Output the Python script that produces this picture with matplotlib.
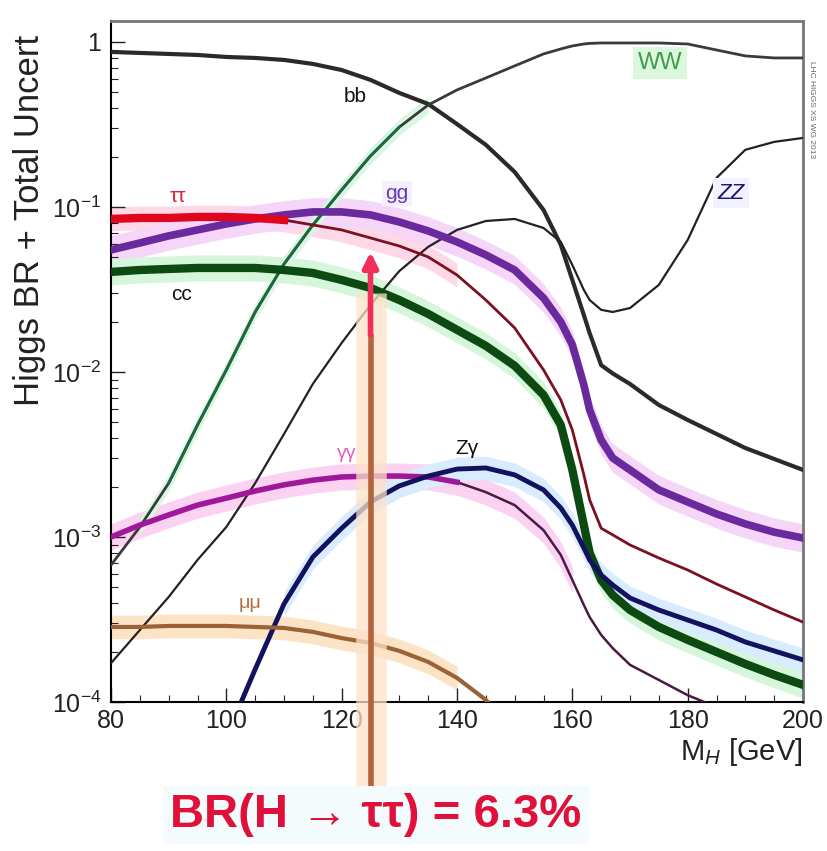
import numpy as np
import matplotlib
matplotlib.use('Agg')
import matplotlib.pyplot as plt
import matplotlib.transforms as mtransforms
from matplotlib import font_manager as fm

names = set(f.name for f in fm.fontManager.ttflist)
narrow = 'Liberation Sans Narrow' if 'Liberation Sans Narrow' in names else 'Liberation Sans'
plt.rcParams['font.family'] = ['Liberation Sans', 'DejaVu Sans']
plt.rcParams['mathtext.fontset'] = 'custom'
plt.rcParams['mathtext.rm'] = 'Liberation Sans'
plt.rcParams['mathtext.it'] = 'Liberation Sans:italic'

# Higgs mass grid [GeV]
M = np.array([80, 85, 90, 95, 100, 105, 110, 115, 120, 125, 130, 135, 140, 145,
              150, 155, 158, 160, 162, 163, 165, 167, 170, 175, 180, 185, 190, 195, 200])

# branching ratios
br_bb = np.array([0.870, 0.858, 0.846, 0.834, 0.811, 0.800, 0.778, 0.736, 0.676, 0.589,
                  0.491, 0.421, 0.318, 0.238, 0.163, 0.096, 0.0589, 0.0361, 0.0221, 0.0172,
                  0.0110, 0.0098, 0.00846, 0.00631, 0.00512, 0.00421, 0.00346, 0.00297,
                  0.00255])
br_ww = np.array([6.76e-4, 1.15e-3, 2.12e-3, 4.77e-3, 0.0103, 0.0231, 0.0451, 0.0778,
                  0.127, 0.204, 0.305, 0.415, 0.512, 0.605, 0.716, 0.846, 0.907, 0.946,
                  0.972, 0.980, 0.986, 0.986, 0.986, 0.986, 0.972, 0.894, 0.823, 0.800, 0.800])
br_zz = np.array([1.72e-4, 2.73e-4, 4.33e-4, 7.26e-4, 1.15e-3, 2.12e-3, 4.21e-3, 8.46e-3,
                  0.0150, 0.0255, 0.0409, 0.0573, 0.0726, 0.0822, 0.0846, 0.0746, 0.0614,
                  0.0445, 0.0314, 0.0273, 0.0238, 0.0231, 0.0244, 0.0337, 0.0631, 0.150,
                  0.222, 0.248, 0.262])
br_gg = np.array([0.0549, 0.0605, 0.0668, 0.0726, 0.0789, 0.0846, 0.0895, 0.0933, 0.0933,
                  0.0895, 0.0811, 0.0716, 0.0614, 0.0512, 0.0415, 0.0281, 0.0201, 0.0146,
                  0.00834, 0.00589, 0.00387, 0.00301, 0.00255, 0.00193, 0.00163, 0.00138,
                  0.00120, 0.00107, 0.000986])
br_tautau = np.array([0.0846, 0.0858, 0.0858, 0.0870, 0.0870, 0.0858, 0.0834, 0.0778,
                      0.0726, 0.0649, 0.0580, 0.0498, 0.0387, 0.0273, 0.0185, 0.0103,
                      0.00677, 0.00445, 0.00238, 0.00168, 0.00113, 0.00103, 8.95e-4,
                      7.46e-4, 6.31e-4, 5.19e-4, 4.33e-4, 3.61e-4, 3.05e-4])
br_cc = np.array([0.0404, 0.0415, 0.0421, 0.0427, 0.0427, 0.0427, 0.0415, 0.0398, 0.0361,
                  0.0323, 0.0273, 0.0225, 0.0180, 0.0144, 0.0109, 0.00726, 0.00477, 0.00255,
                  0.00118, 8.0e-4, 5.49e-4, 4.45e-4, 3.61e-4, 2.85e-4, 2.38e-4, 2.01e-4,
                  1.70e-4, 1.46e-4, 1.27e-4])
br_gamgam = np.array([1.00e-3, 1.18e-3, 1.36e-3, 1.56e-3, 1.72e-3, 1.90e-3, 2.07e-3, 2.21e-3,
                      2.31e-3, 2.34e-3, 2.34e-3, 2.31e-3, 2.15e-3, 1.87e-3, 1.56e-3, 1.10e-3,
                      7.78e-4, 5.49e-4, 3.87e-4, 3.27e-4, 2.55e-4, 2.12e-4, 1.68e-4, 1.36e-4,
                      1.10e-4, 9.33e-5, 8.11e-5, 7.05e-5, 6.31e-5])
br_zgam = np.array([np.nan, np.nan, np.nan, np.nan, 6.14e-5, 1.58e-4, 3.93e-4, 7.56e-4,
                    1.13e-3, 1.63e-3, 2.04e-3, 2.34e-3, 2.58e-3, 2.62e-3, 2.38e-3, 1.93e-3,
                    1.50e-3, 1.18e-3, 8.57e-4, 7.26e-4, 5.89e-4, 5.12e-4, 4.27e-4, 3.61e-4,
                    3.14e-4, 2.73e-4, 2.31e-4, 2.04e-4, 1.80e-4])
br_mumu = np.array([2.85e-4, 2.85e-4, 2.89e-4, 2.89e-4, 2.89e-4, 2.85e-4, 2.81e-4, 2.66e-4,
                    2.44e-4, 2.28e-4, 2.04e-4, 1.75e-4, 1.40e-4, 1.03e-4, 6.76e-5, 3.61e-5,
                    np.nan, np.nan, np.nan, np.nan, np.nan, np.nan, np.nan, np.nan, np.nan,
                    np.nan, np.nan, np.nan, np.nan])

mh_arrow = 125
br_arrow_label = 'BR(H → ττ) = 6.3%'

fig = plt.figure(figsize=(8.27, 8.51), dpi=100)
ax = fig.add_axes([111/827, 149/851, 692/827, 681/851])

# light uncertainty bands
def band(y, f, color, mask=None):
    m = np.ones_like(M, dtype=bool) if mask is None else mask
    ax.fill_between(M[m], y[m] / f, y[m] * f, color=color, lw=0, zorder=1)

band(br_tautau, 1.18, '#ffd8e8', M <= 140)
band(br_gg, 1.22, '#f5d5f8')
band(br_cc, 1.2, '#d6f6dc')
band(br_gamgam, 1.2, '#fcd2f2', M <= 160)
band(br_zgam, 1.18, '#d9ecff', M >= 110)
band(br_mumu, 1.18, '#fde3c6', M <= 140)
band(br_ww, 1.12, '#d8f6e2', (M >= 85) & (M <= 135))

ax.plot(M, br_bb, color='#2a2a2a', lw=3, zorder=3)
ax.plot(M, br_ww, color='#3a3a3a', lw=2, zorder=3)
sel = (M >= 90) & (M <= 130)
ax.plot(M[sel], br_ww[sel], color='#1d6a3e', lw=2, zorder=3)
ax.plot(M, br_zz, color='#222222', lw=1.6, zorder=3)
ax.plot(M, br_cc, color='#0c4a12', lw=6, zorder=3)
ax.plot(M, br_gg, color='#6a2a9e', lw=5.5, zorder=3)
ax.plot(M, br_tautau, color='#7a1020', lw=2, zorder=3)
sel = M <= 110
ax.plot(M[sel], br_tautau[sel], color='#e0061e', lw=6, zorder=3)
ax.plot(M, br_gamgam, color='#4a1a46', lw=1.8, zorder=3)
sel = M <= 140
ax.plot(M[sel], br_gamgam[sel], color='#a0189a', lw=4, zorder=3)
ax.plot(M, br_zgam, color='#12125e', lw=3.5, zorder=3)
ax.plot(M, br_mumu, color='#9a6236', lw=3, zorder=3)

ax.set_yscale('log')
ax.set_xlim(80, 200)
ax.set_ylim(1e-4, 10**0.127)
ax.set_xticks([80, 100, 120, 140, 160, 180, 200])
ax.set_xticks(np.arange(80, 201, 5), minor=True)
ax.set_yticks([1e-4, 1e-3, 1e-2, 1e-1, 1])
ax.set_yticklabels(['$10^{-4}$', '$10^{-3}$', '$10^{-2}$', '$10^{-1}$', '1'])
ax.tick_params(which='both', direction='in', labelsize=18, colors='#222222')
ax.tick_params(which='major', length=10, width=1)
ax.tick_params(which='minor', length=5, width=0.8)
ax.tick_params(axis='x', pad=5)
ax.tick_params(axis='y', pad=7)
for s in ['top', 'right']:
    ax.spines[s].set_color('#777777')
    ax.spines[s].set_linewidth(2)
for s in ['left', 'bottom']:
    ax.spines[s].set_linewidth(1.5)

# curve labels
ax.text(122.3, 0.464, 'bb', fontsize=15, color='#111111', ha='center', va='center', zorder=6)
ax.text(91.6, 0.115, 'ττ', fontsize=15, color='#e0203a', ha='center', va='center', zorder=6)
ax.text(129.6, 0.121, 'gg', fontsize=15, color='#6a38b0', ha='center', va='center', zorder=6,
        bbox=dict(boxstyle='square,pad=0.15', fc='#f4f0ff', ec='none'))
ax.text(92.3, 0.0293, 'cc', fontsize=15, color='#111111', ha='center', va='center', zorder=6)
ax.text(175.2, 0.746, 'WW', fontsize=17, color='#3f9a50', ha='center', va='center', zorder=6,
        bbox=dict(boxstyle='square,pad=0.2', fc='#dcf8dc', ec='none'))
ax.text(187.5, 0.121, 'ZZ', fontsize=16, color='#1a1a6a', style='italic', ha='center',
        va='center', zorder=6, bbox=dict(boxstyle='square,pad=0.2', fc='#f3f0ff', ec='none'))
ax.text(120.9, 3.22e-3, 'γγ', fontsize=14, color='#e060c0', ha='center', va='center', zorder=6)
ax.text(141.7, 3.46e-3, 'Zγ', fontsize=15, color='#111111', ha='center', va='center', zorder=6)
ax.text(104.1, 3.98e-4, 'μμ', fontsize=14, color='#b07040', ha='center', va='center', zorder=6)

# vertical marker at 125 GeV
trans = mtransforms.blended_transform_factory(ax.transData, ax.transAxes)
ax.plot([mh_arrow, mh_arrow], [-0.13, 0.60], transform=trans, color='#fde2c8', lw=22,
        solid_capstyle='butt', clip_on=False, zorder=4, alpha=0.75)
ax.plot([mh_arrow, mh_arrow], [-0.13, 0.54], transform=trans, color='#b4643c', lw=4,
        solid_capstyle='butt', clip_on=False, zorder=5)
ax.annotate('', xy=(mh_arrow, 0.665), xycoords=trans, xytext=(mh_arrow, 0.535), textcoords=trans,
            arrowprops=dict(arrowstyle='-|>', color='#f0305a', lw=4, mutation_scale=22),
            zorder=5, annotation_clip=False)

ax.text(1.0, -0.05, 'M$_H$ [GeV]', transform=ax.transAxes, fontsize=21, ha='right',
        va='top', color='#222222')
fig.text(30/827, 1 - 220/851, 'Higgs BR + Total Uncert', rotation=90, fontsize=25,
         ha='center', va='center', color='#222222')
fig.text(812/827, 1 - 110/851, 'LHC HIGGS XS WG 2013', rotation=270, fontsize=6,
         ha='center', va='center', color='#666666')
fig.text(376/827, 1 - 815/851, br_arrow_label, fontsize=34, fontweight='bold',
         family=[narrow, 'DejaVu Sans'], color='#e0103a', ha='center', va='center',
         bbox=dict(boxstyle='square,pad=0.15', fc='#f3fbfd', ec='none'))

fig.savefig('out.png', dpi=100)
